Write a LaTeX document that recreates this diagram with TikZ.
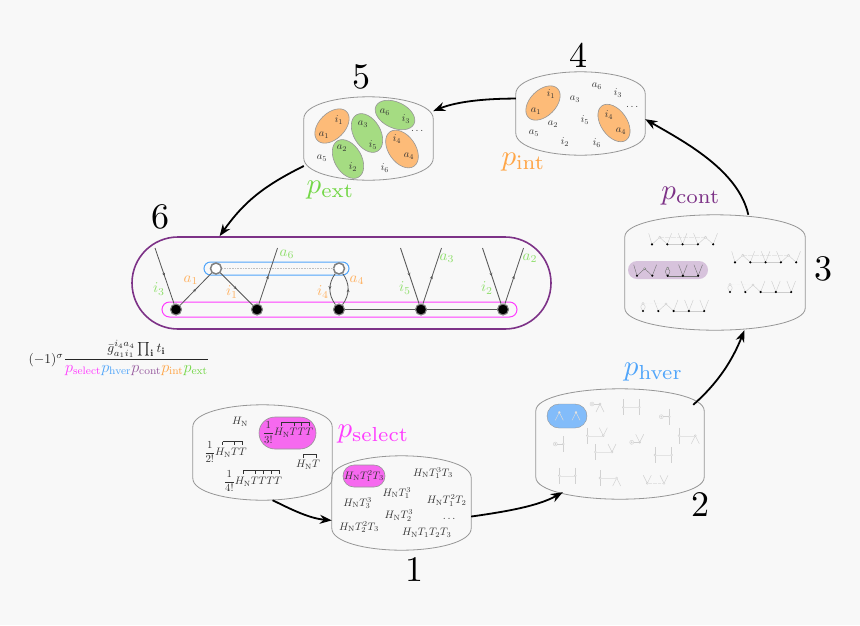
\documentclass[tikz,border=0pt]{standalone}
\usepackage{amsmath, amssymb}
\usepackage{xcolor}
\usetikzlibrary{shapes.geometric, shapes.misc, arrows.meta, calc, decorations.markings}
\definecolor{pagebg}{RGB}{248,248,248}
\definecolor{selectcol}{RGB}{255,60,255}
\definecolor{selectfill}{RGB}{246,105,239}
\definecolor{hvercol}{RGB}{80,165,250}
\definecolor{hverfill}{RGB}{130,188,250}
\definecolor{contcol}{RGB}{125,50,135}
\definecolor{contfill}{RGB}{215,195,220}
\definecolor{intcol}{RGB}{255,165,70}
\definecolor{intfill}{RGB}{253,187,120}
\definecolor{extcol}{RGB}{115,215,70}
\definecolor{extfill}{RGB}{165,220,130}
\definecolor{barrelgray}{RGB}{150,150,150}
\definecolor{leggray}{RGB}{85,85,85}
\newcommand{\barrel}[1]{\draw[barrelline] ($(#1.north west)+(0,22)$)
    .. controls +(0,-14) and ($(#1.north west)!0.25!(#1.north east)$) .. (#1.north)
    .. controls ($(#1.north west)!0.75!(#1.north east)$) and ($(#1.north east)+(0,8)$) .. ($(#1.north east)+(0,22)$)
    -- ($(#1.south east)+(0,-22)$)
    .. controls +(0,14) and ($(#1.south west)!0.75!(#1.south east)$) .. (#1.south)
    .. controls ($(#1.south west)!0.25!(#1.south east)$) and ($(#1.south west)+(0,-8)$) .. ($(#1.south west)+(0,-22)$) -- cycle;}
\newcommand{\wickbar}[4]{\draw[wick] (#2,#1) -- (#3,#1);
    \foreach \x in {#4} \draw[wick] (\x,#1) -- +(0,3.5);}
\tikzset{
    tentchain/.pic={
        \draw[line width=0.4pt] (-3.3,-11) -- (0,0) -- (7.7,-7) -- (15.3,0) -- (19.6,-11);
        \draw[line width=0.4pt] (26.3,-11) -- (30.6,0) -- (34.9,-11);
        \draw[line width=0.4pt] (41.6,-11) -- (45.9,0) -- (53.5,-7) -- (61.2,0) -- (65.5,-11);
        \draw[line width=0.4pt] (15.3,0) -- (45.9,0);
        \draw[line width=0.2pt, densely dotted, opacity=0.4] (7.7,-7) -- (53.5,-7);
        \draw[line width=0.4pt, fill=pagebg] (7.7,-7) circle (1.1pt) (53.5,-7) circle (1.1pt);
        \foreach \x in {0,15.3,30.6,45.9,61.2} \fill[black] (\x,0) circle (1.2pt);
    },
    tentloop/.pic={
        \draw[line width=0.4pt] (-3.3,-11) -- (0,0) -- (7.7,-7) -- (15.3,0) -- (19.6,-11);
        \draw[line width=0.4pt] (30.6,0) .. controls +(-3,-4) and +(-3,3) .. (30.6,-7.5) .. controls +(3,3) and +(3,-4) .. (30.6,0);
        \draw[line width=0.4pt] (41.6,-11) -- (45.9,0) -- (50.2,-11) (56.9,-11) -- (61.2,0) -- (65.5,-11);
        \draw[line width=0.4pt] (30.6,0) -- (61.2,0);
        \draw[line width=0.4pt, fill=pagebg] (7.7,-7) circle (1.1pt) (30.6,-7.5) circle (1.1pt);
        \foreach \x in {0,15.3,30.6,45.9,61.2} \fill[black] (\x,0) circle (1.2pt);
    },
    looptent/.pic={
        \draw[line width=0.4pt] (0,0) .. controls +(-3,-4) and +(-3,3) .. (0,-7.5) .. controls +(3,3) and +(3,-4) .. (0,0);
        \draw[line width=0.4pt] (11,-11) -- (15.3,0) -- (23,-7) -- (30.6,0) -- (34.9,-11);
        \draw[line width=0.4pt] (41.6,-11) -- (45.9,0) -- (50.2,-11) (56.9,-11) -- (61.2,0) -- (65.5,-11);
        \draw[line width=0.4pt] (30.6,0) -- (61.2,0);
        \draw[line width=0.2pt, densely dotted, opacity=0.4] (0,-7.5) -- (23,-7);
        \draw[line width=0.4pt, fill=pagebg] (0,-7.5) circle (1.1pt) (23,-7) circle (1.1pt);
        \foreach \x in {0,15.3,30.6,45.9,61.2} \fill[black] (\x,0) circle (1.2pt);
    },
    vertleg/.pic={
        \draw[line width=0.5pt] (0,-8) -- (0,8);
        \draw[line width=0.4pt, fill=pagebg] (0,0) circle (1pt);
    },
    veeleg/.pic={
        \draw[line width=0.5pt] (-4,-8) -- (0,0) -- (4,-8);
        \draw[line width=0.4pt, fill=pagebg] (0,0) circle (1pt);
    },
    wedgeleg/.pic={
        \draw[line width=0.5pt] (-4,8) -- (0,0) -- (4,8);
        \draw[line width=0.4pt, fill=pagebg] (0,0) circle (1pt);
    },
    tadleg/.pic={
        \draw[line width=0.5pt] (0,0) -- (-6,0);
        \draw[line width=0.4pt] (-8,0) circle (2pt);
        \draw[line width=0.4pt, fill=pagebg] (-8,0) circle (0.7pt);
    },
}
\begin{document}
\begin{tikzpicture}[
    x=1pt, y=-1pt,
    region/.style={rectangle, inner sep=0pt},
    barrelline/.style={draw=barrelgray, line width=0.8pt},
    flow/.style={-{Stealth[length=12pt,width=9pt]}, line width=1.8pt},
    bigno/.style={scale=3.6, inner sep=0pt},
    plabel/.style={scale=2.9, inner sep=0pt},
    tag/.style={scale=1.05, inner sep=0pt, text=black!80},
    term/.style={scale=1.08, inner sep=0pt, text=black!80},
    pairblob/.style={ellipse, draw=barrelgray, line width=0.6pt, inner sep=0pt, minimum width=42pt, minimum height=26pt},
    pill/.style={rounded rectangle, inner sep=0pt},
    linelabel/.style={scale=1.5, inner sep=0pt},
    blackdot/.style={circle, fill=black, draw=gray, line width=1.1pt, inner sep=0pt, minimum size=11pt},
    whitedot/.style={circle, fill=white, draw=gray, line width=1.5pt, inner sep=0pt, minimum size=11pt},
    legline/.style={draw=leggray, line width=0.8pt},
    midmark/.style={postaction={decorate}, decoration={markings, mark=at position 0.5 with {\arrow{Stealth[length=3pt,width=3pt]}}}},
    wick/.style={draw=black!80, line width=0.5pt},
    chaingray/.style={color=black!20},
    chaindark/.style={color=black!55},
    bitgray/.style={color=black!18},
    bitpale/.style={color=white!85!black}
]
\fill[pagebg] (0,0) rectangle (860,625);
\useasboundingbox (0,0) rectangle (860,625);

\node[region, minimum width=139pt, minimum height=95pt] (b0) at (262.5,452.5) {};
\node[region, minimum width=139pt, minimum height=94pt] (b1) at (401.5,503) {};
\node[region, minimum width=168pt, minimum height=110pt] (b2) at (620,444) {};
\node[region, minimum width=180pt, minimum height=115pt] (b3) at (715,272.5) {};
\node[region, minimum width=129pt, minimum height=83pt] (b4) at (580.5,113.5) {};
\node[region, minimum width=129pt, minimum height=83pt] (b5) at (368.5,138.5) {};
\barrel{b0}
\barrel{b1}
\barrel{b2}
\barrel{b3}
\barrel{b4}
\barrel{b5}

\node[bigno] (n1) at (414,570) {1};
\node[bigno] (n2) at (700,505) {2};
\node[bigno] (n3) at (823,269) {3};
\node[bigno] (n4) at (578,55) {4};
\node[bigno] (n5) at (361,77) {5};
\node[bigno] (n6) at (160,217) {6};

\node[plabel, text=selectcol] (pselect) at (373.5,434) {$p_{\mathrm{select}}$};
\node[plabel, text=hvercol] (phver) at (653.5,372) {$p_{\mathrm{hver}}$};
\node[plabel, text=contcol] (pcont) at (691,196) {$p_{\mathrm{cont}}$};
\node[plabel, text=intcol] (pint) at (523.5,162) {$p_{\mathrm{int}}$};
\node[plabel, text=extcol] (pext) at (330.5,190) {$p_{\mathrm{ext}}$};

\coordinate (b1in) at ($(b2.south west)+(27,-7)$);
\coordinate (b2out) at ($(b2.north east)+(-11,16)$);
\draw[flow] (b0.-78) .. controls +(20,10) and +(-22,-2) .. (b1.194);
\draw[flow] (b1.-11) .. controls +(35,-5) and +(-25,14) .. (b1in);
\draw[flow] (b2out) .. controls +(25,-22) and +(-12,30) .. (b3.-63);
\draw[flow] (b3.60) .. controls +(-10,-45) and +(38,22) .. (b4.-5);
\draw[flow] (b4.167) .. controls +(-28,0) and +(25,-10) .. (b5.23);

\node[pill, draw=barrelgray, line width=0.6pt, fill=selectfill, minimum width=57pt, minimum height=32pt] (selectpill) at (287.5,433) {};
\node[term] (t0) at (240,422) {$H_{\mathrm{N}}$};
\node[term] (t1) at (288,432.5) {$\dfrac{1}{3!}H_{\mathrm{N}}TTT$};
\node[term] (t2) at (225.5,452) {$\dfrac{1}{2!}H_{\mathrm{N}}TT$};
\node[term] (t3) at (308,465) {$H_{\mathrm{N}}T$};
\node[term] (t4) at (253,481) {$\dfrac{1}{4!}H_{\mathrm{N}}TTTT$};
\wickbar{422}{281.7}{309.3}{281.7,294,301.7,309.3}
\wickbar{441.7}{222.7}{242.7}{222.7,234,242.7}
\wickbar{454.3}{303.3}{316.7}{303.3,316.7}
\wickbar{470}{243.3}{279.3}{243.3,255.3,263.3,271.3,279.3}

\node[pill, draw=barrelgray, line width=0.6pt, fill=selectfill, minimum width=42pt, minimum height=22pt] (termpill) at (364,476) {};
\foreach \x/\y/\t [count=\n] in {364/476/H_{\mathrm{N}}T_1^2T_3, 433/473/H_{\mathrm{N}}T_1^3T_3, 397/493/H_{\mathrm{N}}T_1^3, 357.7/503/H_{\mathrm{N}}T_3^3, 446.7/500.7/H_{\mathrm{N}}T_1^2T_2, 399/515.7/H_{\mathrm{N}}T_2^3, 450/519/\dots, 359/527/H_{\mathrm{N}}T_2^2T_3, 426.7/533/H_{\mathrm{N}}T_1T_2T_3}
    \node[term] (s\n) at (\x,\y) {$\t$};

\node[pill, fill=hverfill, draw=barrelgray, line width=0.4pt, minimum width=40pt, minimum height=24pt] (hverpill) at (567,416) {};
\foreach \x/\y in {559.3/412.3, 576/412.3} \pic[bitpale] at (\x,\y) {wedgeleg};
\foreach \x/\y in {600/404, 695.3/435.7, 616.7/478} \pic[bitgray] at (\x,\y) {wedgeleg};
\foreach \x/\y in {623.3/407.3, 639.3/407.3, 669.3/416.7, 587.3/435.7, 563.3/444, 595.3/452, 655/455, 671.7/455, 679/435.7, 559.3/475.7, 575.3/475.7, 600/478} \pic[bitgray] at (\x,\y) {vertleg};
\foreach \x/\y in {603.3/435.7, 612/452, 639.7/442.3, 647.3/483.3, 664/483.3} \pic[bitgray] at (\x,\y) {veeleg};
\foreach \x/\y in {600/404, 669.3/416.7, 563.3/444, 639.7/442.3} \pic[bitgray] at (\x,\y) {tadleg};
\foreach \xa/\xb/\y in {623.3/639.3/407.3, 587.3/603.3/435.7, 595.3/612/452, 655/671.7/455, 679/695.3/435.7, 559.3/575.3/475.7, 600/616.7/478}
    \draw[black!11, line width=0.4pt] (\xa,\y) -- (\xb,\y);
\draw[black!11, line width=0.3pt, densely dotted] (647.3,483.3) -- (664,483.3);

\node[pill, fill=contfill, draw=none, minimum width=80pt, minimum height=18pt] (contpill) at (668,270) {};
\pic[chaingray] at (652,244.3) {tentchain};
\pic[chaingray] at (735,262.3) {tentchain};
\pic[chaindark] at (637,275.7) {tentloop};
\pic[chaingray] at (730,292) {looptent};
\pic[chaingray] at (643,311) {looptent};

\node[pairblob, fill=intfill, rotate=45, minimum width=41pt] (b4pa) at (543,103) {};
\node[pairblob, fill=intfill, rotate=-55] (b4pb) at (614,123) {};
\foreach \x/\y/\t [count=\n] in {551/94/i_1, 536/111/a_1, 597/86/a_6, 618/93/i_3, 575/99/a_3, 553/124/a_2, 534/133/a_5, 585/120/i_5, 609/115/i_4, 621/131/a_4, 633/107/\dots, 565/142/i_2, 597/143/i_6}
    \node[tag] (d\n) at (\x,\y) {$\t$};

\node[pairblob, fill=intfill, rotate=45, minimum width=41pt] (b5pa) at (332,126) {};
\node[pairblob, fill=extfill, rotate=-60, minimum height=27pt] (b5pb) at (348,159) {};
\node[pairblob, fill=extfill, rotate=-60, minimum height=27pt] (b5pc) at (367,133) {};
\node[pairblob, fill=extfill, rotate=-25] (b5pd) at (395,115) {};
\node[pairblob, fill=intfill, rotate=-55, minimum height=27pt] (b5pe) at (402,149) {};
\foreach \x/\y/\t [count=\n] in {324/135/a_1, 339/120/i_1, 342/148/a_2, 353/167/i_2, 363/124/a_3, 373/145/i_5, 385/112/a_6, 406/119/i_3, 397/139/i_4, 409/156/a_4, 322/158/a_5, 385/168/i_6, 418/131/\dots}
    \node[tag] (e\n) at (\x,\y) {$\t$};

\node[pill, draw=contcol, line width=1.6pt, minimum width=419pt, minimum height=92pt] (contour) at (341.5,283) {};
\node[pill, draw=selectcol, line width=1pt, minimum width=355pt, minimum height=15pt] (selectbar) at (339.5,309.5) {};
\node[pill, draw=hvercol, line width=1pt, minimum width=145pt, minimum height=13pt] (hverbar) at (276.5,268.5) {};

\draw[flow] (b5.203) .. controls +(-40,20) and +(25,-35) .. (contour.159.6);

\node[blackdot] (v1) at (176,309.5) {};
\node[blackdot] (v2) at (257,309.5) {};
\node[blackdot] (v3) at (339,309.5) {};
\node[blackdot] (v4) at (421,309.5) {};
\node[blackdot] (v5) at (503,309.5) {};
\node[whitedot] (w1) at (216,268.5) {};
\node[whitedot] (w2) at (339,268.5) {};
\coordinate (e1) at (155,248);
\coordinate (e2) at (277.5,248);
\coordinate (e3) at (400.5,248);
\coordinate (e4) at (441.5,248);
\coordinate (e5) at (482.5,248);
\coordinate (e6) at (523.5,248);

\draw[black!25, line width=0.6pt, densely dotted] (w1) -- (w2);
\draw[legline, midmark] (e1) -- (v1);
\draw[legline, midmark] (v1) -- (w1);
\draw[legline, midmark] (w1) -- (v2);
\draw[legline, midmark] (v2) -- (e2);
\draw[legline, midmark] (w2) .. controls +(-11,15) and +(-11,-15) .. (v3);
\draw[legline, midmark] (v3) .. controls +(11,-15) and +(11,15) .. (w2);
\draw[legline] (v3) -- (v4);
\draw[legline] (v4) -- (v5);
\draw[legline, midmark] (e3) -- (v4);
\draw[legline, midmark] (v4) -- (e4);
\draw[legline, midmark] (e5) -- (v5);
\draw[legline, midmark] (v5) -- (e6);

\node[linelabel, text=extcol!80!white] (li3) at (159,289) {$i_3$};
\node[linelabel, text=intcol!85!white] (la1) at (191,280) {$a_1$};
\node[linelabel, text=intcol!85!white] (li1) at (232,292) {$i_1$};
\node[linelabel, text=extcol!80!white] (la6) at (287,254) {$a_6$};
\node[linelabel, text=intcol!85!white] (li4) at (323,292) {$i_4$};
\node[linelabel, text=intcol!85!white] (la4) at (357,280) {$a_4$};
\node[linelabel, text=extcol!80!white] (li5) at (405,288) {$i_5$};
\node[linelabel, text=extcol!80!white] (la3) at (447,258) {$a_3$};
\node[linelabel, text=extcol!80!white] (li2) at (487,288) {$i_2$};
\node[linelabel, text=extcol!80!white] (la2) at (530,258) {$a_2$};

\node[inner sep=0pt, scale=1.35, text=black!85] (formula) at (119,358) {$(-1)^{\sigma}\dfrac{\bar g_{a_1 i_1}^{i_4 a_4}\prod_{\mathbf{i}} t_{\mathbf{i}}}{\mbox{\fontsize{12}{14}\selectfont$\textcolor{selectcol}{p_{\mathrm{select}}}\textcolor{hvercol}{p_{\mathrm{hver}}}\textcolor{contcol!80!white}{p_{\mathrm{cont}}}\textcolor{intcol}{p_{\mathrm{int}}}\textcolor{extcol}{p_{\mathrm{ext}}}$}}$};
\end{tikzpicture}
\end{document}
